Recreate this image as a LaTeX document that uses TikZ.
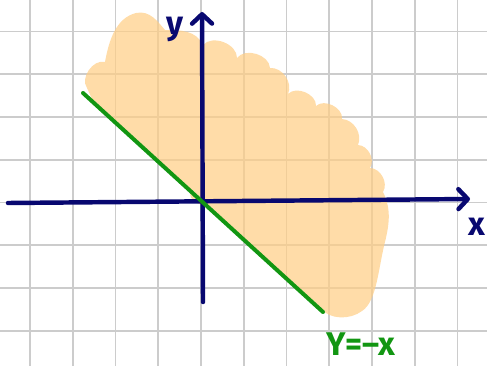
\documentclass[tikz,border=0pt]{standalone}
\definecolor{plotNavy}{RGB}{8,8,112}
\definecolor{plotGreen}{RGB}{18,150,18}
\definecolor{plotPeach}{RGB}{255,206,134}
\definecolor{plotGrid}{RGB}{204,204,204}
\usepackage{fontspec}
\setmainfont{Fira Sans}
\usepackage{tikz}
\usetikzlibrary{arrows.meta,positioning}

\begin{document}
\begin{tikzpicture}[
  x=0.03cm, y=-0.03cm,
  grid/.style={plotGrid, line width=1.6pt},
  blob/.style={fill=plotPeach, fill opacity=0.72},
  axis/.style={plotNavy, line width=3.8pt, line cap=round,
               -{Straight Barb[length=8pt,width=17pt,round]}},
  bound/.style={plotGreen, line width=3.4pt, line cap=round},
  lbl/.style={font=\fontsize{28}{28}\selectfont\bfseries, inner sep=0pt}
]
  \useasboundingbox (0,0) rectangle (487,366);

  \foreach \i in {0,...,10}
    \draw[grid] (30+42.75*\i,0) -- (30+42.75*\i,366);
  \foreach \j in {0,...,7}
    \draw[grid] (0,31.5+42.75*\j) -- (487,31.5+42.75*\j);

  \fill[blob] (87,88) to[bend left=70] (105,62)
    .. controls (109,40) and (116,18) .. (136,13)
    .. controls (150,10) and (158,22) .. (165,30)
    .. controls (180,30) and (196,30) .. (203,45)
    to[bend left=70] (237,58)
    to[bend left=70] (270,68)
    to[bend left=60] (288,94)
    to[bend left=70] (316,106)
    to[bend left=70] (342,119)
    to[bend left=55] (358,145)
    to[bend left=60] (370,168)
    to[bend left=60] (383,192)
    .. controls (392,210) and (389,226) .. (384,246)
    .. controls (378,272) and (376,302) .. (362,311)
    .. controls (350,320) and (330,320) .. (320,308)
    -- (209,206)
    .. controls (196,206) and (186,196) .. (192,191)
    -- (92,99) -- cycle;

  \coordinate (xl) at (8,203);
  \coordinate (xr) at (470,199);
  \coordinate (yb) at (203,302);
  \coordinate (yt) at (202,12);
  \coordinate (ls) at (83,93);
  \coordinate (le) at (323,312);

  \draw[axis] (xl) -- (xr);
  \draw[axis] (yb) -- (yt);
  \draw[bound] (ls) -- (le);

  \node[lbl, text=plotNavy] (ylab) at (175,29) {y};
  \node[lbl, text=plotNavy] (xlab) at (477,227) {x};
  \node[lbl, text=plotGreen, anchor=west] (eqlab) at (326,344) {Y=--x};
\end{tikzpicture}
\end{document}
